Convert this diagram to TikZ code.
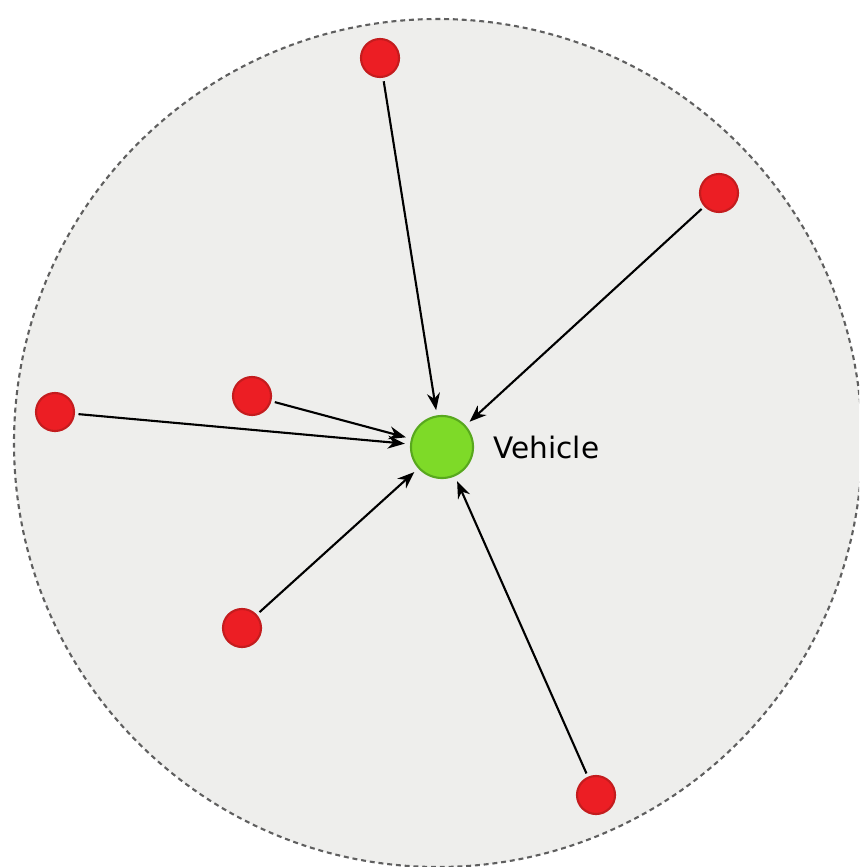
\documentclass[tikz,border=0pt]{standalone}
\usepackage{fontspec}
\setmainfont{DejaVu Sans}
\usetikzlibrary{arrows.meta,positioning}
\definecolor{zone}{RGB}{238,238,236}
\definecolor{rim}{RGB}{95,95,95}
\definecolor{sensor}{RGB}{236,30,36}
\definecolor{sensoredge}{RGB}{196,28,30}
\definecolor{car}{RGB}{126,218,40}
\definecolor{caredge}{RGB}{88,168,30}
\tikzset{
  coverage/.style={draw=rim,dash pattern=on 1.4pt off 1.1pt,fill=zone,line width=0.6pt},
  src/.style={circle,fill=sensor,draw=sensoredge,line width=0.6pt,minimum size=0.38cm,inner sep=0pt},
  veh/.style={circle,fill=car,draw=caredge,line width=0.6pt,minimum size=0.62cm,inner sep=0pt},
  link/.style={-{Stealth[length=1.7mm,width=1.3mm]},line width=0.6pt,draw=black,shorten >=1.5pt,shorten <=1pt}
}
\begin{document}
\begin{tikzpicture}[x=0.01cm,y=-0.01cm]
\useasboundingbox (0,0) rectangle (859,867);
\begin{scope}
\clip (0,0) rectangle (859,867);
\draw[coverage] (438,443) circle (424);
\end{scope}
\node[veh] (v) at (442,447) {};
\node[right=0.07cm of v,font=\fontsize{8.4}{10}\selectfont] (vl) {Vehicle};
\node[src] (s1) at (380,58) {};
\node[src] (s2) at (719,193) {};
\node[src] (s3) at (252,396) {};
\node[src] (s4) at (55,412) {};
\node[src] (s5) at (242,628) {};
\node[src] (s6) at (596,795) {};
\draw[link] (s1) -- (v);
\draw[link] (s2) -- (v);
\draw[link] (s3) -- (v);
\draw[link] (s4) -- (v);
\draw[link] (s5) -- (v);
\draw[link] (s6) -- (v);
\end{tikzpicture}
\end{document}
